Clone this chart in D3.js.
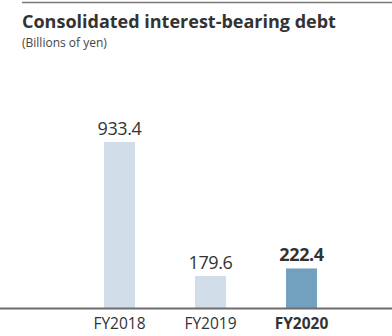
<!DOCTYPE html>
<html>
<head>
<meta charset="utf-8">
<script src="https://cdn.jsdelivr.net/npm/d3@7"></script>
<style>
  body { margin: 0; background: #fff; }
  svg { display: block; font-family: "Open Sans", "Noto Sans", sans-serif; }
</style>
</head>
<body>
<script>
// chart values
const categories = ["FY2018", "FY2019", "FY2020"];
const values = [933.4, 179.6, 222.4];
const highlight = [false, false, true];

const width = 392, height = 336;
const svg = d3.select("body").append("svg")
  .attr("width", width)
  .attr("height", height);

// top rule
svg.append("line")
  .attr("x1", 22).attr("x2", width)
  .attr("y1", 2.5).attr("y2", 2.5)
  .attr("stroke", "#777").attr("stroke-width", 1.5);

svg.append("text")
  .attr("x", 22).attr("y", 28)
  .attr("font-size", 18).attr("font-weight", "bold")
  .attr("fill", "#333")
  .text("Consolidated interest-bearing debt");

svg.append("text")
  .attr("x", 22).attr("y", 47)
  .attr("font-size", 12).attr("fill", "#444")
  .text("(Billions of yen)");

let base = 308;
let x = d3.scaleBand()
  .domain(categories)
  .range([74, 347])
  .paddingInner(0.66)
  .paddingOuter(0.33);

let y = d3.scaleLinear()
  .domain([0, 933.4])
  .range([base, 142]);

// bars
svg.selectAll("rect.bar")
  .data(values)
  .enter().append("rect")
    .attr("class", "bar")
    .attr("x", (d, i) => x(categories[i]))
    .attr("y", d => y(d))
    .attr("width", x.bandwidth())
    .attr("height", d => base - y(d))
    .attr("fill", (d, i) => highlight[i] ? "#72a1c0" : "#d1dde8");

// value labels
svg.selectAll("text.val")
  .data(values)
  .enter().append("text")
    .attr("class", "val")
    .attr("x", (d, i) => x(categories[i]) + x.bandwidth() / 2)
    .attr("y", d => y(d) - 7.5)
    .attr("text-anchor", "middle")
    .attr("font-size", 18)
    .attr("letter-spacing", -0.4)
    .attr("font-weight", (d, i) => highlight[i] ? "bold" : "normal")
    .attr("fill", "#333")
    .text(d => d.toFixed(1));

// baseline
svg.append("line")
  .attr("x1", 0).attr("x2", width)
  .attr("y1", base + 0.5).attr("y2", base + 0.5)
  .attr("stroke", "#6d6d6d").attr("stroke-width", 2);

// category labels
let xAxis = d3.axisBottom(x).tickSize(0).tickPadding(0);
let ax = svg.append("g")
  .attr("transform", "translate(0," + base + ")")
  .call(xAxis);
ax.select(".domain").remove();
ax.selectAll("text")
  .attr("y", 21)
  .attr("dy", 0)
  .attr("font-family", "\"Open Sans\", \"Noto Sans\", sans-serif")
  .attr("font-size", 15.5)
  .attr("fill", "#333")
  .attr("font-weight", (d, i) => highlight[i] ? "bold" : "normal");
</script>
</body>
</html>
